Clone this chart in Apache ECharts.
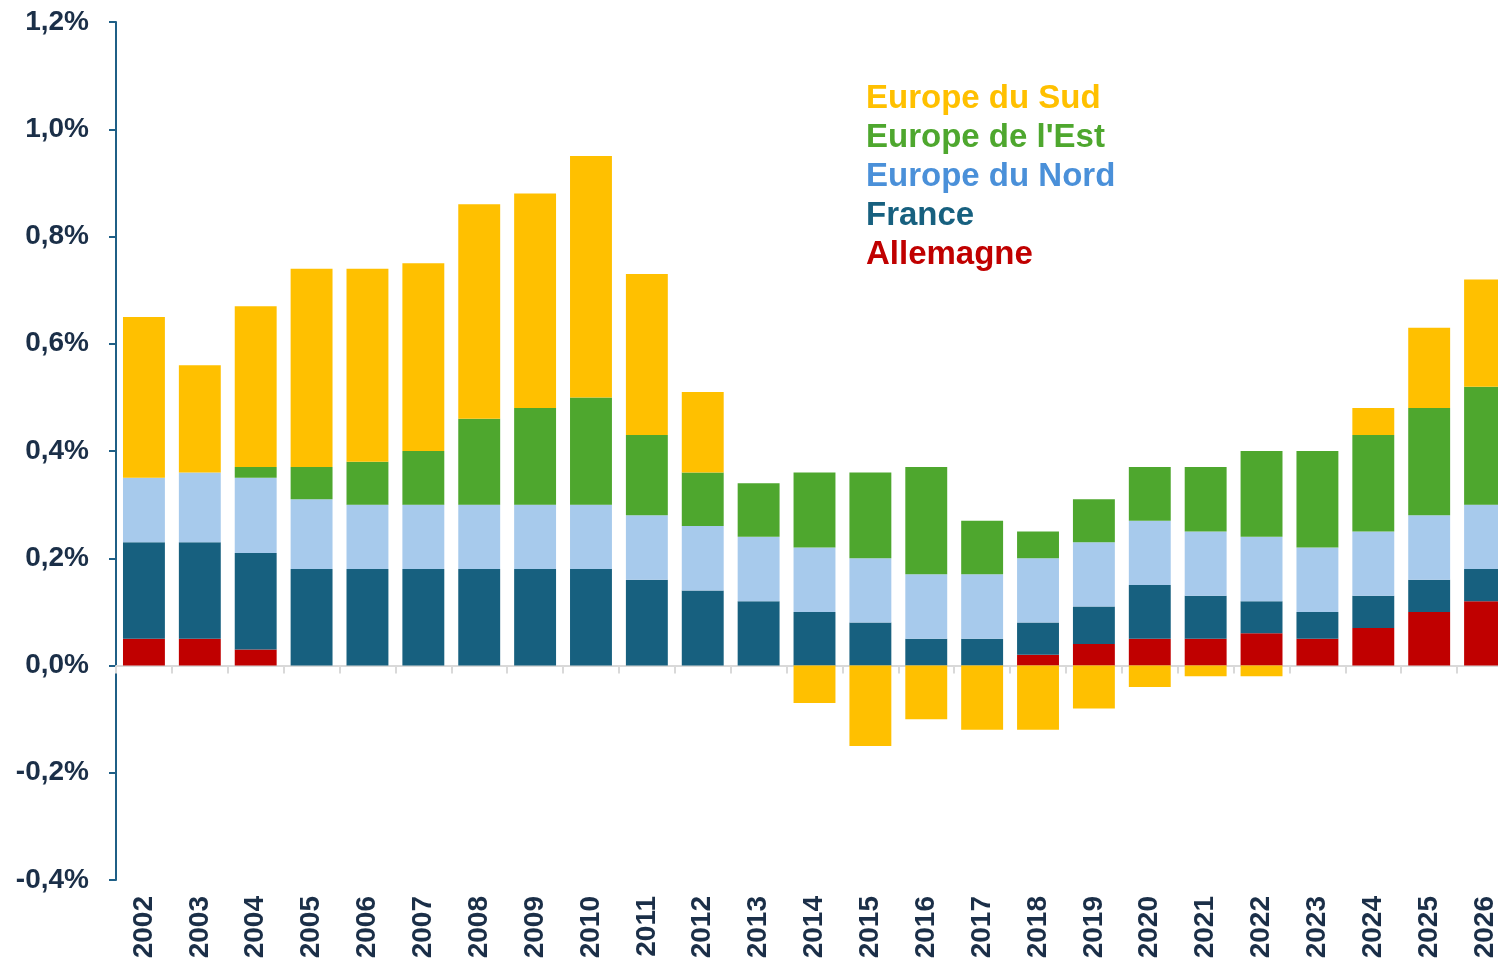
<!DOCTYPE html>
<html>
<head>
<meta charset="utf-8">
<script src="https://cdn.jsdelivr.net/npm/echarts@6/dist/echarts.min.js"></script>
<style>
  html, body { margin: 0; padding: 0; background: #fff; }
  #chart { width: 1498px; height: 965px; }
</style>
</head>
<body>
<div id="chart"></div>
<script>
// categories
var years = ['2002', '2003', '2004', '2005', '2006', '2007', '2008', '2009', '2010', '2011', '2012', '2013',
  '2014', '2015', '2016', '2017', '2018', '2019', '2020', '2021', '2022', '2023', '2024', '2025', '2026'];

// contributions, in % points (stacked from bottom)
var allemagne = [0.05, 0.05, 0.03, 0, 0, 0, 0, 0, 0, 0, 0, 0,
  0, 0, 0, 0, 0.02, 0.04, 0.05, 0.05, 0.06, 0.05, 0.07, 0.10, 0.12];
var france = [0.18, 0.18, 0.18, 0.18, 0.18, 0.18, 0.18, 0.18, 0.18, 0.16, 0.14, 0.12,
  0.10, 0.08, 0.05, 0.05, 0.06, 0.07, 0.10, 0.08, 0.06, 0.05, 0.06, 0.06, 0.06];
var nord = [0.12, 0.13, 0.14, 0.13, 0.12, 0.12, 0.12, 0.12, 0.12, 0.12, 0.12, 0.12,
  0.12, 0.12, 0.12, 0.12, 0.12, 0.12, 0.12, 0.12, 0.12, 0.12, 0.12, 0.12, 0.12];
var est = [0, 0, 0.02, 0.06, 0.08, 0.10, 0.16, 0.18, 0.20, 0.15, 0.10, 0.10,
  0.14, 0.16, 0.20, 0.10, 0.05, 0.08, 0.10, 0.12, 0.16, 0.18, 0.18, 0.20, 0.22];
var sud = [0.30, 0.20, 0.30, 0.37, 0.36, 0.35, 0.40, 0.40, 0.45, 0.30, 0.15, 0,
  -0.07, -0.15, -0.10, -0.12, -0.12, -0.08, -0.04, -0.02, -0.02, 0, 0.05, 0.15, 0.20];

var FONT = '"Liberation Sans", Arial, sans-serif';
var NAVY = '#1b2f48';
var AXIS = '#1f5f86';

var colors = {
  'Allemagne': '#c00000',
  'France': '#17607f',
  'Europe du Nord': '#a7caec',
  "Europe de l'Est": '#4ea72e',
  'Europe du Sud': '#ffc000'
};
var legendColors = {
  'Allemagne': '#c00000',
  'France': '#17607f',
  'Europe du Nord': '#4a90d9',
  "Europe de l'Est": '#4ea72e',
  'Europe du Sud': '#ffc000'
};

function barSeries(name, data) {
  return {
    name: name,
    type: 'bar',
    stack: 'total',
    xAxisIndex: 0,
    barCategoryGap: '25%',
    itemStyle: { color: colors[name] },
    emphasis: { disabled: true },
    data: data
  };
}

var chart = echarts.init(document.getElementById('chart'));
chart.setOption({
  animation: false,
  backgroundColor: '#fff',
  // the plot runs past the right edge, last bar is cut off
  grid: { left: 116, right: -15, top: 22, bottom: 85, containLabel: false, outerBoundsMode: 'none' },
  legend: {
    orient: 'vertical',
    left: 856,
    top: 74,
    icon: 'rect',
    itemWidth: 0,
    itemHeight: 0,
    itemGap: 0,
    selectedMode: false,
    data: ['Europe du Sud', "Europe de l'Est", 'Europe du Nord', 'France', 'Allemagne'].map(function (n) {
      return { name: n, textStyle: { color: legendColors[n] } };
    }),
    textStyle: { fontFamily: FONT, fontWeight: 'bold', fontSize: 33, lineHeight: 39 }
  },
  xAxis: [{
    type: 'category',
    data: years,
    axisLine: { onZero: true, lineStyle: { color: '#d9d9d9', width: 2 } },
    axisTick: { show: true, length: 8, interval: 0, lineStyle: { color: '#d9d9d9', width: 2 } },
    axisLabel: { show: false }
  }, {
    type: 'category',
    data: years,
    position: 'bottom',
    axisLine: { show: false, onZero: false },
    axisTick: { show: false },
    axisLabel: {
      rotate: 90,
      interval: 0,
      margin: 16,
      color: NAVY,
      fontFamily: FONT,
      fontWeight: 'bold',
      fontSize: 28
    }
  }],
  yAxis: {
    type: 'value',
    min: -0.4,
    max: 1.2,
    interval: 0.2,
    splitLine: { show: false },
    axisLine: { show: true, lineStyle: { color: AXIS, width: 2 } },
    axisTick: { show: true, length: 7, lineStyle: { color: AXIS, width: 2 } },
    axisLabel: {
      margin: 27,
      color: NAVY,
      fontFamily: FONT,
      fontWeight: 'bold',
      fontSize: 28,
      formatter: function (v) { return v.toFixed(1).replace('.', ',') + '%'; }
    }
  },
  series: [
    barSeries('Allemagne', allemagne),
    barSeries('France', france),
    barSeries('Europe du Nord', nord),
    barSeries("Europe de l'Est", est),
    barSeries('Europe du Sud', sud)
  ]
});
</script>
</body>
</html>
